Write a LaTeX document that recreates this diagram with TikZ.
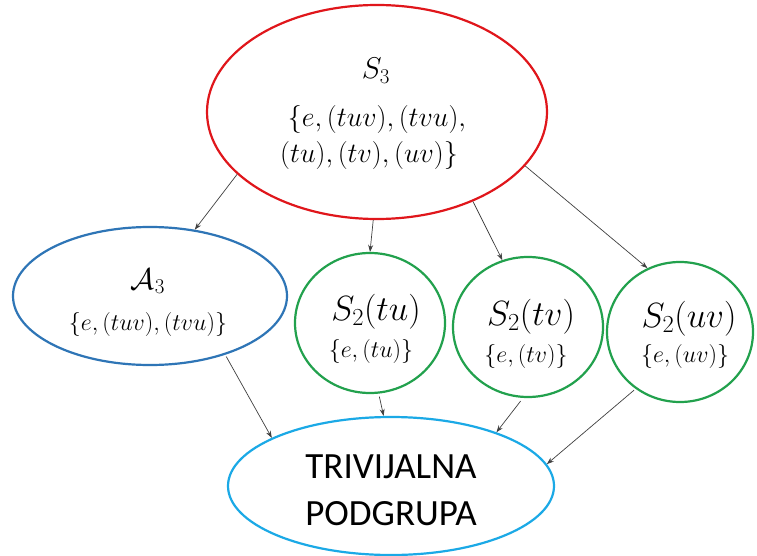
\RequirePackage{fix-cm}
\documentclass[tikz,border=0pt]{standalone}
\usepackage{fontspec}
\newfontfamily\calib{Carlito}
\usetikzlibrary{shapes.geometric,arrows.meta}
\definecolor{redc}{HTML}{E0161B}
\definecolor{bluec}{HTML}{2E75B6}
\definecolor{greenc}{HTML}{22A14D}
\definecolor{lbluec}{HTML}{1BA9E6}
\begin{document}
\begin{tikzpicture}[x=1pt,y=-1pt,
  grp/.style={ellipse, line width=2.2pt, inner sep=0pt},
  lbl/.style={anchor=base, inner sep=0pt},
  big/.style={lbl, font=\fontsize{30}{34}\selectfont},
  title/.style={lbl, font=\fontsize{35}{40}\selectfont},
  setf/.style={lbl, font=\fontsize{24}{28}\selectfont},
  s3set/.style={lbl, font=\fontsize{28}{32}\selectfont},
  conn/.style={-{Stealth[length=7pt,width=5pt]}, draw=black!75, line width=0.7pt}]
\useasboundingbox (0,0) rectangle (757,556);
\fill[white] (0,0) rectangle (757,556);
% ellipses
\node[grp, draw=redc, minimum width=340pt, minimum height=214pt] (S3) at (377,112) {};
\node[grp, draw=bluec, minimum width=274pt, minimum height=138pt] (A3) at (150,296) {};
\node[grp, draw=greenc, minimum width=150pt, minimum height=140pt] (T1) at (370,323) {};
\node[grp, draw=greenc, minimum width=150pt, minimum height=140pt] (T2) at (528,327) {};
\node[grp, draw=greenc, minimum width=146pt, minimum height=140pt] (T3) at (680,332) {};
\node[grp, draw=lbluec, minimum width=326pt, minimum height=138pt] (TR) at (391,486) {};
% texts
\node[big] (S3a) at (376,79) {$S_3$};
\node[s3set] (S3b) at (377,127) {$\{e,(tuv),(tvu),$};
\node[s3set] (S3c) at (369,163) {$(tu),(tv),(uv)\}$};
\node[big] (A3a) at (148,289) {$\mathcal{A}_3$};
\node[setf] (A3b) at (148,330) {$\{e,(tuv),(tvu)\}$};
\node[title] (T1a) at (376,320) {$S_2(tu)$};
\node[setf] (T1b) at (371,357) {$\{e,(tu)\}$};
\node[title] (T2a) at (531,325) {$S_2(tv)$};
\node[setf] (T2b) at (526,362) {$\{e,(tv)\}$};
\node[title] (T3a) at (689,327) {$S_2(uv)$};
\node[setf] (T3b) at (685,362) {$\{e,(uv)\}$};
\node[lbl, font=\calib\fontsize{37}{40}\selectfont] (TRa) at (391,478) {TRIVIJALNA};
\node[lbl, font=\calib\fontsize{37}{40}\selectfont] (TRb) at (391,525) {PODGRUPA};
% connectors
\draw[conn] (S3.204) -- (A3.56);
\draw[conn] (S3.268) -- (T1.90);
\draw[conn] (S3.317) -- (T2.111);
\draw[conn] (S3.340) -- (T3.117);
\draw[conn, shorten <=2pt] (A3.322) -- (TR.158);
\draw[conn, shorten <=3pt] (T1.277) -- (TR.96);
\draw[conn, shorten <=4pt] (T2.266) -- (TR.27);
\draw[conn, shorten <=2pt] (T3.232) -- (TR.8);
\end{tikzpicture}
\end{document}
